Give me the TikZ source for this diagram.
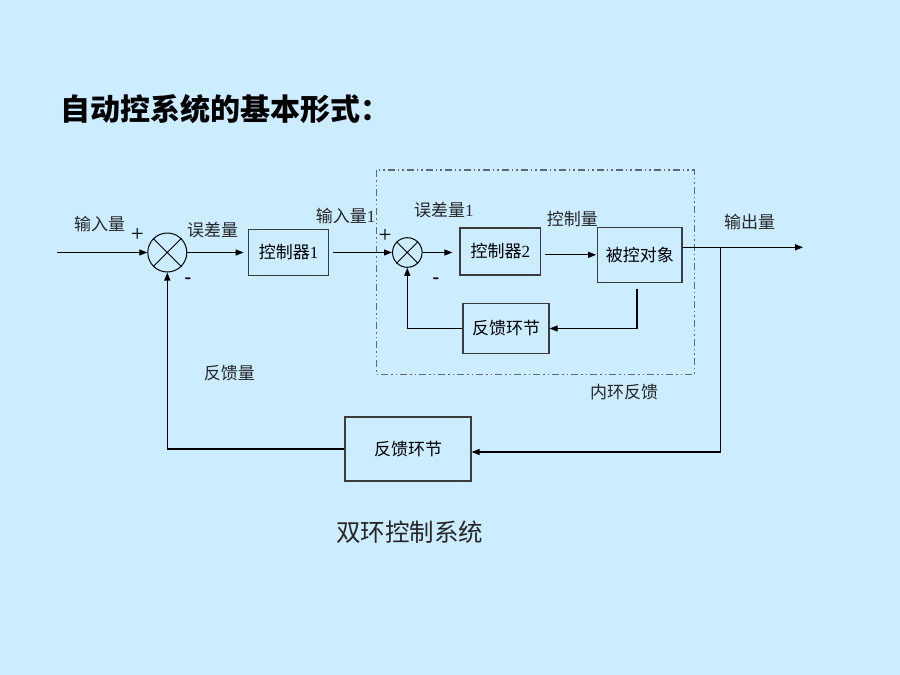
\documentclass[tikz,border=0pt]{standalone}
\usepackage{fontspec}
\setmainfont{Liberation Serif}
\newfontfamily\cjk{Noto Sans CJK SC}
\usetikzlibrary{arrows.meta}
\definecolor{bgblue}{RGB}{204,236,255}
\definecolor{boxline}{RGB}{60,60,60}
\definecolor{dashline}{RGB}{95,105,115}
\tikzset{
  blk/.style={draw=boxline, line width=1.1pt, minimum width=#1, inner sep=0pt, font=\fontsize{17}{17}\selectfont},
  sumnode/.style={draw=black, circle, line width=1pt, inner sep=0pt, minimum size=#1},
  conn/.style={draw=black, line width=1.1pt},
  arr/.style={conn, -{Triangle[length=8pt,width=6pt]}},
  lbl/.style={anchor=west, inner sep=0pt, font=\fontsize{17}{17}\selectfont, text=black!85},
  sgn/.style={inner sep=0pt, font=\fontsize{23}{23}\selectfont},
  msgn/.style={inner sep=0pt, font=\fontsize{20}{20}\selectfont\bfseries}
}
\begin{document}
\begin{tikzpicture}[x=1pt,y=-1pt]
\fill[bgblue] (0,0) rectangle (900,675);
\useasboundingbox (0,0) rectangle (900,675);

% title
\node[anchor=west, inner sep=0pt, font=\fontsize{30}{30}\selectfont\bfseries] (title) at (60,109) {\cjk 自动控系统的基本形式：};

% inner dash-dot frame
\draw[dashline, line width=1.2pt, dash pattern=on 7pt off 3pt on 1.5pt off 3pt on 1.5pt off 3pt] (376.7,170) rectangle (694.3,374.5);

% blocks
\node[sumnode=39pt] (sum1) at (167.3,252.5) {};
\draw[line width=0.9pt] (sum1.north west) -- (sum1.south east) (sum1.north east) -- (sum1.south west);
\node[blk=80pt, minimum height=46pt] (c1) at (288.7,252.5) {{\cjk 控制器}1};
\node[sumnode=29.6pt] (sum2) at (407.3,252.5) {};
\draw[line width=0.9pt] (sum2.north west) -- (sum2.south east) (sum2.north east) -- (sum2.south west);
\node[blk=80.7pt, minimum height=47pt] (c2) at (500.3,251.5) {{\cjk 控制器}2};
\node[blk=84.3pt, minimum height=55pt] (plant) at (639.8,254.8) {\cjk 被控对象};
\node[blk=86pt, minimum height=50.6pt] (ifb) at (506,328.5) {\cjk 反馈环节};
\node[blk=126pt, minimum height=64pt] (ofb) at (408,449) {\cjk 反馈环节};

% coordinates
\coordinate (inp) at (57.3,252.5);
\coordinate (outend) at (803,247.3);
\coordinate (branch) at (720.5,247.3);
\coordinate (pdrop) at (637,289);

% connectors
\draw[arr] (inp) -- (sum1.west);
\draw[arr, shorten >=4.5pt] (sum1.east) -- (c1.west);
\draw[arr, shorten <=4pt] (c1.east) -- (sum2.west);
\draw[arr, shorten >=7pt] (sum2.east) -- (c2.west |- sum2.east);
\draw[arr, shorten <=3.5pt, shorten >=1pt] (c2.east |- plant.west) -- (plant.west);
\draw[arr] (plant.east |- outend) -- (outend);
\draw[arr] (branch) |- ([yshift=-3pt]ofb.east);
\draw[arr] (ofb.west) -| (sum1.south);
\draw[arr] (pdrop) |- (ifb.east);
\draw[arr] (ifb.west) -| (sum2.south);

% signs
\node[sgn] (p1) at (137.3,235) {+};
\node[msgn] (m1) at (188,281) {-};
\node[sgn] (p2) at (385,235.5) {+};
\node[msgn] (m2) at (436,281) {-};

% labels
\node[lbl] (l1) at (74,224) {\cjk 输入量};
\node[lbl] (l2) at (187,230.5) {\cjk 误差量};
\node[lbl] (l3) at (315.7,216.5) {{\cjk 输入量}1};
\node[lbl] (l4) at (414,210.5) {{\cjk 误差量}1};
\node[lbl] (l5) at (546.7,219) {\cjk 控制量};
\node[lbl] (l6) at (724,222.5) {\cjk 输出量};
\node[lbl] (l7) at (203.6,373) {\cjk 反馈量};
\node[lbl] (l8) at (590,392.5) {\cjk 内环反馈};
\node[anchor=west, inner sep=0pt, font=\fontsize{24.5}{24.5}\selectfont, text=black!85] (cap) at (336,532.5) {\cjk 双环控制系统};
\end{tikzpicture}
\end{document}
